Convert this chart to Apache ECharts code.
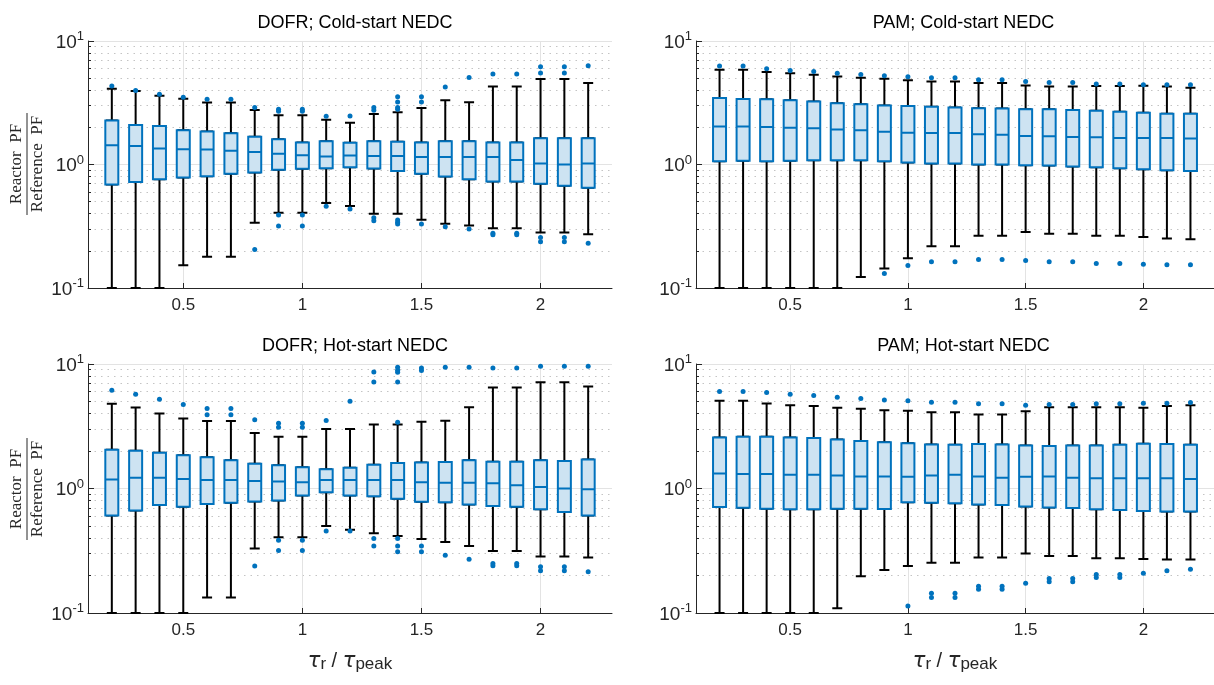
<!DOCTYPE html>
<html>
<head>
<meta charset="utf-8">
<script src="https://cdn.jsdelivr.net/npm/echarts@6/dist/echarts.min.js"></script>
<style>
  html, body { margin: 0; padding: 0; background: #fff; }
  #chart { width: 1214px; height: 685px; }
</style>
</head>
<body>
<div id="chart"></div>
<script>
// box positions (tau_r / tau_peak)
const tau = [0.2, 0.3, 0.4, 0.5, 0.6, 0.7, 0.8, 0.9, 1, 1.1, 1.2, 1.3, 1.4, 1.5, 1.6, 1.7, 1.8, 1.9, 2, 2.1, 2.2];
const xTicks = [0.5, 1, 1.5, 2];

// [min, Q1, median, Q3, max] for each tau
const dofrColdBox = [
  [0.1, 0.69, 1.43, 2.27, 4.11], [0.1, 0.72, 1.41, 2.09, 3.94], [0.1, 0.76, 1.35, 2.05, 3.61],
  [0.153, 0.785, 1.33, 1.89, 3.41], [0.179, 0.805, 1.32, 1.85, 3.17], [0.179, 0.84, 1.29, 1.79, 3.17],
  [0.338, 0.86, 1.26, 1.68, 2.76], [0.407, 0.906, 1.22, 1.6, 2.5], [0.407, 0.923, 1.19, 1.51, 2.5],
  [0.487, 0.934, 1.16, 1.54, 2.3], [0.461, 0.952, 1.18, 1.5, 2.18], [0.4, 0.929, 1.17, 1.54, 2.56],
  [0.4, 0.884, 1.17, 1.53, 2.65], [0.357, 0.84, 1.15, 1.51, 2.87], [0.332, 0.8, 1.15, 1.54, 3.31],
  [0.32, 0.76, 1.15, 1.54, 3.19], [0.304, 0.73, 1.15, 1.51, 4.29], [0.304, 0.73, 1.09, 1.51, 4.29],
  [0.282, 0.698, 1.02, 1.63, 4.92], [0.282, 0.673, 1.0, 1.63, 4.92], [0.272, 0.648, 1.02, 1.63, 4.56]
];
const dofrColdOut = [
  [4.32], [3.98], [3.7], [3.5], [3.37], [3.37], [2.9, 0.205], [2.7, 2.8, 0.39, 0.318], [2.7, 2.8, 0.39, 0.318],
  [2.46, 0.46], [2.47, 0.436], [2.9, 2.75, 0.37, 0.35], [3.54, 3.2, 2.89, 2.8, 0.356, 0.34, 0.33],
  [3.54, 3.2, 0.33], [4.24, 0.314], [5.07, 0.3], [5.4, 0.277, 0.27], [5.4, 0.277, 0.27],
  [6.19, 5.5, 0.256, 0.237], [6.19, 5.5, 0.256, 0.237], [6.3, 0.23]
];

const pamColdBox = [
  [0.1, 1.06, 2.03, 3.45, 5.85], [0.1, 1.07, 2.03, 3.39, 5.85], [0.1, 1.06, 2.01, 3.37, 5.6],
  [0.1, 1.07, 1.98, 3.31, 5.47], [0.1, 1.08, 1.97, 3.23, 5.33], [0.1, 1.08, 1.92, 3.13, 5.17],
  [0.123, 1.08, 1.89, 3.07, 5.04], [0.144, 1.06, 1.84, 3.01, 4.95], [0.174, 1.04, 1.81, 2.98, 4.8],
  [0.218, 1.02, 1.8, 2.94, 4.71], [0.218, 1.02, 1.8, 2.9, 4.71], [0.265, 1.0, 1.76, 2.85, 4.56],
  [0.265, 1.0, 1.74, 2.84, 4.56], [0.284, 0.988, 1.7, 2.8, 4.37], [0.275, 0.98, 1.69, 2.8, 4.29],
  [0.275, 0.963, 1.67, 2.76, 4.29], [0.265, 0.952, 1.66, 2.73, 4.32], [0.265, 0.934, 1.64, 2.68, 4.32],
  [0.259, 0.917, 1.64, 2.63, 4.35], [0.252, 0.9, 1.64, 2.58, 4.29], [0.248, 0.884, 1.62, 2.57, 4.19]
];
const pamColdOut = [
  [6.26], [6.26], [5.95], [5.78], [5.66], [5.47], [5.36], [5.24, 0.131], [5.13, 0.152],
  [5.04, 0.163], [5.04, 0.163], [4.86, 0.17], [4.86, 0.17], [4.71, 0.167], [4.62, 0.163],
  [4.62, 0.163], [4.49, 0.158], [4.49, 0.158], [4.42, 0.156], [4.42, 0.154], [4.42, 0.154]
];

const dofrHotBox = [
  [0.1, 0.608, 1.18, 2.05, 4.79], [0.1, 0.667, 1.22, 2.01, 4.47], [0.1, 0.736, 1.22, 1.94, 4.0],
  [0.1, 0.713, 1.19, 1.85, 3.65], [0.133, 0.75, 1.17, 1.78, 3.48], [0.133, 0.768, 1.17, 1.69, 3.48],
  [0.329, 0.787, 1.15, 1.58, 2.79], [0.406, 0.8, 1.14, 1.54, 2.61], [0.406, 0.879, 1.12, 1.48, 2.61],
  [0.5, 0.935, 1.17, 1.43, 3.0], [0.467, 0.879, 1.17, 1.47, 3.0], [0.437, 0.868, 1.17, 1.55, 3.27],
  [0.416, 0.827, 1.17, 1.6, 3.27], [0.393, 0.782, 1.12, 1.62, 3.44], [0.372, 0.777, 1.11, 1.63, 3.5],
  [0.346, 0.745, 1.11, 1.69, 4.5], [0.315, 0.722, 1.1, 1.64, 6.47], [0.315, 0.713, 1.06, 1.64, 6.47],
  [0.284, 0.68, 1.03, 1.69, 7.13], [0.284, 0.647, 1.0, 1.66, 7.13], [0.279, 0.608, 0.988, 1.71, 6.59]
];
const dofrHotOut = [
  [6.16], [5.72], [5.22], [4.73], [4.39, 3.91], [4.39, 3.91], [3.56, 0.239], [3.35, 3.11, 0.384, 0.317],
  [3.35, 3.11, 0.384, 0.317], [3.52, 0.456], [5.03, 0.456], [8.63, 7.18, 0.396, 0.346],
  [9.4, 8.9, 8.6, 7.18, 3.41, 0.396, 0.346, 0.31], [9.3, 8.85, 0.346, 0.31], [9.4, 0.291], [9.4, 0.27],
  [9.3, 0.25, 0.24], [9.3, 0.25, 0.24], [9.6, 0.235, 0.218], [9.6, 0.235, 0.218], [9.6, 0.214]
];

const pamHotBox = [
  [0.1, 0.709, 1.32, 2.57, 5.06], [0.1, 0.7, 1.31, 2.61, 5.06], [0.1, 0.688, 1.31, 2.61, 4.82],
  [0.1, 0.68, 1.29, 2.57, 4.67], [0.1, 0.68, 1.29, 2.54, 4.59], [0.109, 0.688, 1.27, 2.47, 4.45],
  [0.197, 0.688, 1.25, 2.41, 4.37], [0.222, 0.684, 1.25, 2.35, 4.26], [0.238, 0.777, 1.24, 2.31, 4.21],
  [0.253, 0.768, 1.27, 2.26, 4.1], [0.253, 0.763, 1.29, 2.25, 4.1], [0.279, 0.745, 1.25, 2.28, 3.93],
  [0.279, 0.736, 1.22, 2.26, 3.93], [0.3, 0.718, 1.24, 2.21, 4.18], [0.287, 0.705, 1.25, 2.19, 4.5],
  [0.287, 0.696, 1.22, 2.22, 4.5], [0.275, 0.68, 1.21, 2.21, 4.5], [0.275, 0.671, 1.21, 2.25, 4.5],
  [0.272, 0.659, 1.21, 2.29, 4.45], [0.269, 0.654, 1.21, 2.28, 4.59], [0.269, 0.654, 1.19, 2.25, 4.67]
];
const pamHotOut = [
  [6.0], [6.0], [5.9], [5.72], [5.58], [5.41], [5.28], [5.15], [5.06, 0.114], [4.94, 0.144, 0.133],
  [4.94, 0.144, 0.133], [4.79, 0.164, 0.155], [4.79, 0.164, 0.155], [4.67, 0.173], [4.73, 0.189, 0.178],
  [4.73, 0.189, 0.178], [4.79, 0.204, 0.193], [4.79, 0.204, 0.193], [4.85, 0.209], [4.85, 0.218], [4.91, 0.225]
];

const BLUE = '#0072BD';
const FILL = '#cde3f2';
const AXIS = '#262626';
const FONT = '"Liberation Sans", Arial, sans-serif';
const SERIF = '"Liberation Serif", "DejaVu Serif", serif';

const panels = [
  { title: 'DOFR; Cold-start NEDC', box: dofrColdBox, out: dofrColdOut, left: 88, top: 41, width: 524, height: 247, xName: false },
  { title: 'PAM; Cold-start NEDC', box: pamColdBox, out: pamColdOut, left: 696, top: 41, width: 525, height: 247, xName: false },
  { title: 'DOFR; Hot-start NEDC', box: dofrHotBox, out: dofrHotOut, left: 88, top: 364, width: 524, height: 249, xName: true },
  { title: 'PAM; Hot-start NEDC', box: pamHotBox, out: pamHotOut, left: 696, top: 364, width: 525, height: 249, xName: true }
];

// category axis runs 0.1 .. 2.3 so boxes sit one step in from each edge
const cats = [0.1].concat(tau, [2.3]).map(String);
const tickNames = xTicks.map(String);
const isTick = (i, v) => tickNames.indexOf(v) >= 0;

const chart = echarts.init(document.getElementById('chart'));

const grid = [], xAxis = [], yAxis = [], series = [], title = [], graphic = [];

panels.forEach((p, k) => {
  grid.push({ left: p.left, top: p.top, width: p.width, height: p.height, containLabel: false });
  title.push({
    text: p.title, left: p.left + p.width / 2, top: p.top - 32, textAlign: 'center',
    textStyle: { fontFamily: FONT, fontSize: 18, fontWeight: 'normal', color: '#000' }
  });
  const xa = {
    type: 'category', data: cats, boundaryGap: false, gridIndex: k,
    axisLine: { lineStyle: { color: AXIS, width: 1 } },
    axisTick: { inside: true, length: 5, interval: isTick, lineStyle: { color: AXIS } },
    axisLabel: { interval: isTick, margin: 9, fontFamily: FONT, fontSize: 17, color: AXIS },
    splitLine: { show: true, interval: isTick, lineStyle: { color: '#e3e3e3', width: 1 } }
  };
  if (p.xName) {
    xa.name = '{t|τ}{s|r}{m| / }{t|τ}{s|peak}';
    xa.nameLocation = 'middle';
    xa.nameGap = 38;
    xa.nameTextStyle = {
      color: AXIS,
      rich: {
        t: { fontFamily: '"DejaVu Sans", sans-serif', fontStyle: 'italic', fontSize: 21, color: AXIS, lineHeight: 22, verticalAlign: 'top' },
        m: { fontFamily: FONT, fontSize: 20, color: AXIS, lineHeight: 22, verticalAlign: 'top' },
        s: { fontFamily: FONT, fontSize: 17, color: AXIS, lineHeight: 17, padding: [13, 0, 0, 0], verticalAlign: 'bottom' }
      }
    };
  }
  xAxis.push(xa);
  // hidden twin axis so the blue box series is laid out on its own band
  xAxis.push({ type: 'category', data: cats, boundaryGap: false, gridIndex: k, show: false });

  yAxis.push({
    type: 'log', logBase: 10, min: 0.1, max: 10, gridIndex: k,
    axisLine: { show: true, lineStyle: { color: AXIS, width: 1 } },
    axisTick: { show: true, inside: true, length: 6, lineStyle: { color: AXIS } },
    minorTick: { show: true, splitNumber: 9, length: 3, lineStyle: { color: AXIS } },
    splitLine: { show: true, lineStyle: { color: '#e3e3e3', width: 1 } },
    minorSplitLine: { show: true, lineStyle: { color: '#c4c4c4', width: 1, type: [1.5, 5] } },
    axisLabel: {
      margin: 4,
      formatter: v => '{b|10}{e|' + Math.round(Math.log10(v)) + '}',
      rich: {
        b: { fontFamily: FONT, fontSize: 19, color: AXIS, lineHeight: 22, padding: [6, 0, 0, 0], verticalAlign: 'bottom' },
        e: { fontFamily: FONT, fontSize: 13, color: AXIS, lineHeight: 14, verticalAlign: 'top' }
      }
    }
  });

  // black whiskers (full five-number summary)
  series.push({
    type: 'boxplot', xAxisIndex: 2 * k, yAxisIndex: k, silent: true,
    boxWidth: [10, 10],
    itemStyle: { color: '#fff', borderColor: '#000', borderWidth: 2 },
    data: ['-'].concat(p.box, ['-'])
  });
  // blue box (Q1..Q3 with median)
  series.push({
    type: 'boxplot', xAxisIndex: 2 * k + 1, yAxisIndex: k, silent: true,
    boxWidth: [13, 13],
    itemStyle: { color: FILL, borderColor: BLUE, borderWidth: 2 },
    data: ['-'].concat(p.box.map(b => [b[1], b[1], b[2], b[3], b[3]]), ['-'])
  });
  // outliers
  const pts = [];
  p.out.forEach((vals, i) => vals.forEach(v => pts.push([String(tau[i]), v])));
  series.push({
    type: 'scatter', xAxisIndex: 2 * k, yAxisIndex: k, silent: true, z: 4,
    symbolSize: 5, itemStyle: { color: BLUE, opacity: 1 }, data: pts
  });
});

// y-axis label as a fraction, rotated
const fracText = (text, y, va) => ({
  type: 'text',
  style: { text, x: 0, y, align: 'center', verticalAlign: va, fontSize: 17, fontFamily: SERIF, fill: AXIS }
});
[164, 489].forEach(cy => {
  graphic.push({
    type: 'group', x: 27, y: cy, rotation: Math.PI / 2, silent: true,
    children: [
      fracText('Reactor  PF', -2, 'bottom'),
      { type: 'line', shape: { x1: -51, y1: 0, x2: 51, y2: 0 }, style: { stroke: AXIS, lineWidth: 1 } },
      fracText('Reference  PF', 2, 'top')
    ]
  });
});

chart.setOption({
  animation: false,
  backgroundColor: '#fff',
  title, grid, xAxis, yAxis, series, graphic
});
</script>
</body>
</html>
